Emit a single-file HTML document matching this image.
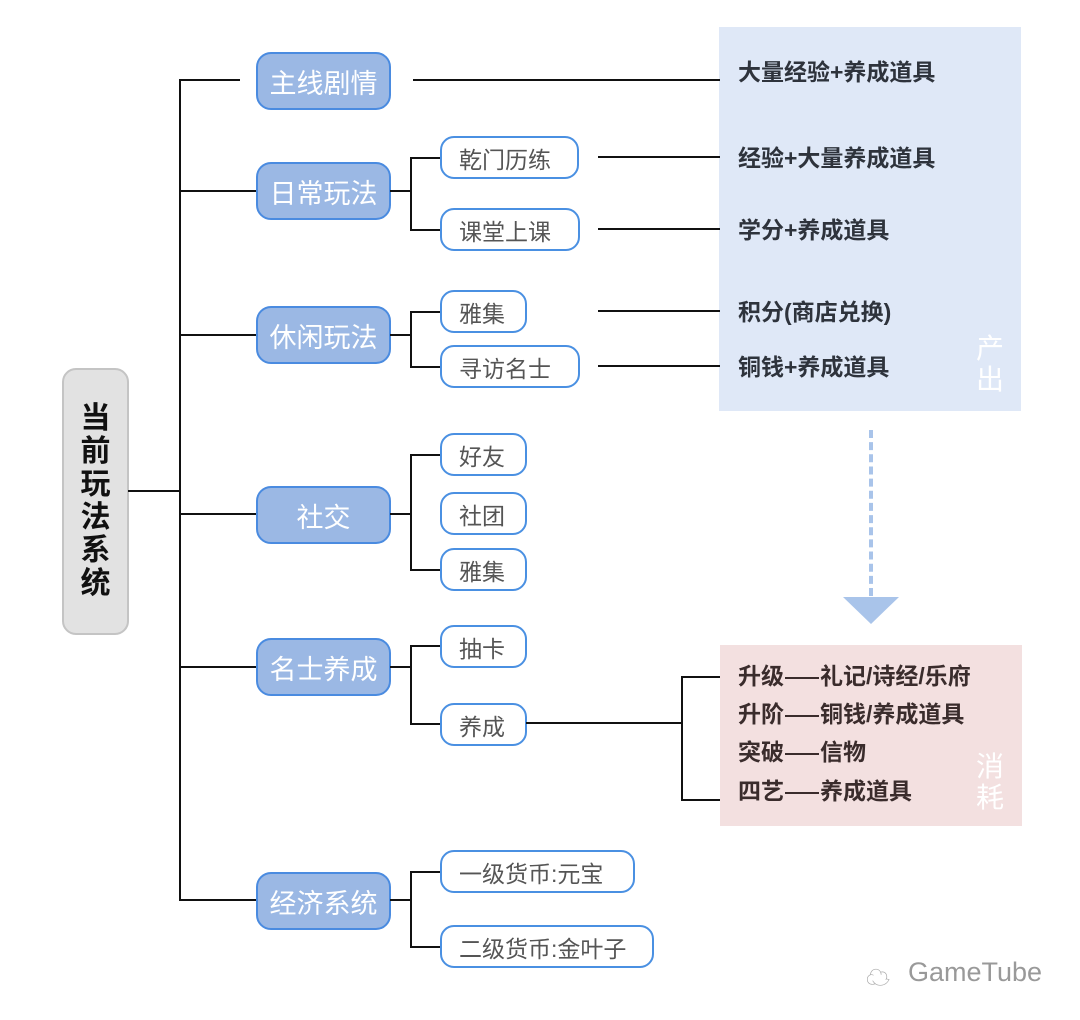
<!DOCTYPE html>
<html><head><meta charset="utf-8"><style>
body{margin:0;width:1080px;height:1020px;background:#fff;position:relative;overflow:hidden;font-family:"Liberation Sans","Noto Sans CJK SC",sans-serif}
div{position:absolute;box-sizing:border-box}
.l{background:#111}
.n1{left:256px;width:135px;height:58px;background:#9bb8e4;border:2px solid #4a8be0;border-radius:15px;color:#fff;font-size:27px;display:flex;align-items:center;justify-content:center}
.n2{left:440px;height:43px;background:#fff;border:2px solid #4a90e2;border-radius:14px;color:#555;font-size:23px;display:flex;align-items:center;padding-left:17px;white-space:nowrap}
.t{left:738px;font-size:23px;font-weight:bold;color:#2e333c;line-height:26px;white-space:nowrap}
.p{left:738px;font-size:23px;font-weight:bold;color:#3a2c2c;line-height:26px;white-space:nowrap}
.d{display:inline-block;width:34px;height:2px;background:#3a2c2c;vertical-align:middle;margin:0 1px}
</style></head><body>
<div style="left:719px;top:27px;width:302px;height:384px;background:#dfe8f7"></div>
<div style="left:976px;top:333px;width:32px;font-size:28px;color:#fff;line-height:31px">产<br>出</div>
<div style="left:720px;top:645px;width:302px;height:181px;background:#f3e0e0"></div>
<div style="left:976px;top:751px;width:32px;font-size:28px;color:#fff;line-height:31px">消<br>耗</div>
<div style="left:62px;top:368px;width:67px;height:267px;background:#e2e2e2;border:2px solid #c4c4c4;border-radius:14px;color:#111;font-size:30px;line-height:33px;text-align:center;padding-top:32px;font-weight:bold">当<br>前<br>玩<br>法<br>系<br>统</div>
<div class="l" style="left:128px;top:490px;width:53px;height:2px"></div>
<div class="l" style="left:179px;top:79px;width:2px;height:822px"></div>
<div class="l" style="left:179px;top:79px;width:61px;height:2px"></div>
<div class="l" style="left:179px;top:190px;width:77px;height:2px"></div>
<div class="l" style="left:179px;top:334px;width:77px;height:2px"></div>
<div class="l" style="left:179px;top:513px;width:77px;height:2px"></div>
<div class="l" style="left:179px;top:666px;width:77px;height:2px"></div>
<div class="l" style="left:179px;top:899px;width:77px;height:2px"></div>
<div class="l" style="left:413px;top:79px;width:307px;height:2px"></div>
<div class="n1" style="top:52px">主线剧情</div>
<div class="n1" style="top:162px">日常玩法</div>
<div class="n1" style="top:306px">休闲玩法</div>
<div class="n1" style="top:486px">社交</div>
<div class="n1" style="top:638px">名士养成</div>
<div class="n1" style="top:872px">经济系统</div>
<div class="l" style="left:390px;top:190px;width:22px;height:2px"></div>
<div class="l" style="left:410px;top:157px;width:2px;height:73px"></div>
<div class="l" style="left:410px;top:157px;width:30px;height:2px"></div>
<div class="l" style="left:410px;top:229px;width:30px;height:2px"></div>
<div class="l" style="left:390px;top:334px;width:22px;height:2px"></div>
<div class="l" style="left:410px;top:311px;width:2px;height:56px"></div>
<div class="l" style="left:410px;top:311px;width:30px;height:2px"></div>
<div class="l" style="left:410px;top:366px;width:30px;height:2px"></div>
<div class="l" style="left:390px;top:513px;width:22px;height:2px"></div>
<div class="l" style="left:410px;top:454px;width:2px;height:116px"></div>
<div class="l" style="left:410px;top:454px;width:30px;height:2px"></div>
<div class="l" style="left:410px;top:569px;width:30px;height:2px"></div>
<div class="l" style="left:390px;top:666px;width:22px;height:2px"></div>
<div class="l" style="left:410px;top:645px;width:2px;height:79px"></div>
<div class="l" style="left:410px;top:645px;width:30px;height:2px"></div>
<div class="l" style="left:410px;top:723px;width:30px;height:2px"></div>
<div class="l" style="left:390px;top:899px;width:22px;height:2px"></div>
<div class="l" style="left:410px;top:871px;width:2px;height:76px"></div>
<div class="l" style="left:410px;top:871px;width:30px;height:2px"></div>
<div class="l" style="left:410px;top:946px;width:30px;height:2px"></div>
<div class="n2" style="top:136px;width:139px">乾门历练</div>
<div class="n2" style="top:208px;width:140px">课堂上课</div>
<div class="n2" style="top:290px;width:87px">雅集</div>
<div class="n2" style="top:345px;width:140px">寻访名士</div>
<div class="n2" style="top:433px;width:87px">好友</div>
<div class="n2" style="top:492px;width:87px">社团</div>
<div class="n2" style="top:548px;width:87px">雅集</div>
<div class="n2" style="top:625px;width:87px">抽卡</div>
<div class="n2" style="top:703px;width:87px">养成</div>
<div class="n2" style="top:850px;width:195px">一级货币:元宝</div>
<div class="n2" style="top:925px;width:214px">二级货币:金叶子</div>
<div class="l" style="left:598px;top:156px;width:122px;height:2px"></div>
<div class="l" style="left:598px;top:228px;width:122px;height:2px"></div>
<div class="l" style="left:598px;top:310px;width:122px;height:2px"></div>
<div class="l" style="left:598px;top:365px;width:122px;height:2px"></div>
<div class="t" style="top:59px">大量经验+养成道具</div>
<div class="t" style="top:145px">经验+大量养成道具</div>
<div class="t" style="top:217px">学分+养成道具</div>
<div class="t" style="top:299px">积分(商店兑换)</div>
<div class="t" style="top:354px">铜钱+养成道具</div>
<div class="l" style="left:526px;top:722px;width:157px;height:2px"></div>
<div class="l" style="left:681px;top:676px;width:2px;height:125px"></div>
<div class="l" style="left:681px;top:676px;width:39px;height:2px"></div>
<div class="l" style="left:681px;top:799px;width:39px;height:2px"></div>
<div class="p" style="top:663px">升级<span class="d"></span>礼记/诗经/乐府</div>
<div class="p" style="top:701px">升阶<span class="d"></span>铜钱/养成道具</div>
<div class="p" style="top:739px">突破<span class="d"></span>信物</div>
<div class="p" style="top:778px">四艺<span class="d"></span>养成道具</div>
<div style="left:869px;top:430px;width:0;height:166px;border-left:4px dashed #a9c4ea"></div>
<div style="left:843px;top:597px;width:0;height:0;border-left:28px solid transparent;border-right:28px solid transparent;border-top:27px solid #a9c4ea"></div>
<div style="left:866px;top:958px;font-size:24px;color:#aaa">☁</div>
<div style="left:908px;top:957px;font-size:27px;color:#999">GameTube</div>
</body></html>
